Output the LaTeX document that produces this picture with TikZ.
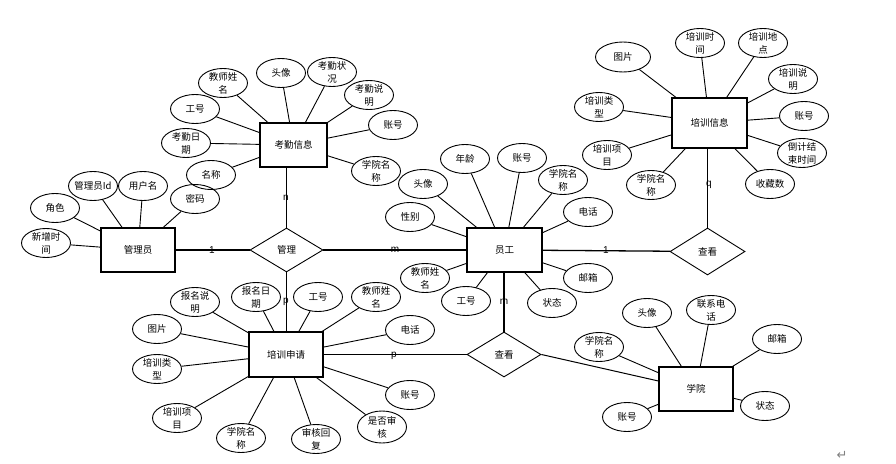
\documentclass[tikz,border=0pt]{standalone}
\usepackage{fontspec}
\setmainfont{Noto Sans CJK SC}
\newfontfamily\latinfont{Liberation Sans}
\newfontfamily\symfont{DejaVu Sans}
\usetikzlibrary{shapes.geometric}
\tikzset{
  txt/.style={font=\fontsize{9.5}{13}\selectfont,align=center,inner sep=0pt},
  ent/.style={draw,rectangle,line width=1.1pt,inner sep=0pt,font=\fontsize{9.5}{13}\selectfont,minimum width=74pt,minimum height=44pt},
  rel/.style={draw,diamond,line width=0.9pt,inner sep=0pt,font=\fontsize{9.5}{13}\selectfont,minimum width=74pt,minimum height=45pt},
  attr/.style={draw,ellipse,line width=0.9pt,inner sep=0pt,minimum width=49pt,minimum height=29pt,label={[txt]center:#1}},
  aline/.style={line width=0.9pt},
  rline/.style={line width=1.3pt},
  card/.style={font=\latinfont\fontsize{10}{11}\selectfont,inner sep=0pt}
}
\begin{document}
\begin{tikzpicture}[x=1pt,y=-1pt]
\useasboundingbox (0,0) rectangle (896,463);
% entities
\node[ent] (gly) at (138,250) {管理员};
\node[ent,minimum width=67pt] (kq) at (293.5,145) {考勤信息};
\node[ent,minimum width=75pt] (yg) at (504.5,250) {员工};
\node[ent,minimum width=75pt,minimum height=50pt] (pxxx) at (709.5,123) {培训信息};
\node[ent,minimum height=45pt] (pxsq) at (286,354.5) {培训申请};
\node[ent] (xy) at (696,389) {学院};
% relations
\node[rel,minimum width=73pt,minimum height=44pt] (gl) at (286.5,250) {管理};
\node[rel,minimum width=75pt,minimum height=47pt] (ck1) at (707.5,251.5) {查看};
\node[rel] (ck2) at (504,354.5) {查看};
% relation lines
\draw[rline] (gly) -- (gl);
\draw[rline] (gl) -- (yg);
\draw[line width=1.1pt] (gl.north) -- (gl.north |- kq.south);
\draw[line width=1.1pt] (gl.south) -- (gl.south |- pxsq.north);
\draw[rline] (yg) -- (ck1);
\draw[line width=1.1pt] (ck1.north) -- (ck1.north |- pxxx.south);
\draw[line width=1.1pt] (yg.south -| ck2.north) -- (ck2.north);
\draw[rline] (pxsq.east |- ck2.west) -- (ck2.west);
\draw[line width=1pt] (ck2.east) -- ([yshift=8pt]xy.west);
% cardinalities
\node[card] (l1) at (212,250) {1};
\node[card] (l2) at (395,250) {m};
\node[card] (l3) at (286,198) {n};
\node[card] (l4) at (286,302) {p};
\node[card] (l5) at (606,250) {1};
\node[card] (l6) at (709,185) {q};
\node[card] (l7) at (504,302) {m};
\node[card] (l8) at (394,356) {p};
% 管理员 attributes
\node[attr={角色}] (a1) at (55,208) {};
\node[attr={新增时\\间}] (a2) at (46,243) {};
\node[attr={管理员Id}] (a3) at (93,186) {};
\node[attr={用户名}] (a4) at (143,186) {};
\node[attr={密码}] (a5) at (195,199) {};
\foreach \n in {a1,a2,a3,a4,a5} \draw[aline] (\n) -- (gly);
% 考勤信息 attributes
\node[attr={名称}] (b1) at (211,175) {};
\node[attr={考勤日\\期}] (b2) at (186,143) {};
\node[attr={工号}] (b3) at (195,109) {};
\node[attr={教师姓\\名}] (b4) at (223,83) {};
\node[attr={头像}] (b5) at (281,73) {};
\node[attr={考勤状\\况}] (b6) at (332,72) {};
\node[attr={考勤说\\明}] (b7) at (369,95) {};
\node[attr={账号}] (b8) at (393,125) {};
\node[attr={学院名\\称}] (b9) at (376,171) {};
\foreach \n in {b1,b2,b3,b4,b5,b6,b7,b8,b9} \draw[aline] (\n) -- (kq);
% 员工 attributes
\node[attr={年龄}] (c1) at (465,159) {};
\node[attr={账号}] (c2) at (522,158) {};
\node[attr={学院名\\称}] (c3) at (563,180) {};
\node[attr={头像}] (c4) at (423,184) {};
\node[attr={电话}] (c5) at (588,212) {};
\node[attr={性别}] (c6) at (410,217) {};
\node[attr={教师姓\\名}] (c7) at (425,278) {};
\node[attr={工号}] (c8) at (466,301) {};
\node[attr={状态}] (c9) at (552,303) {};
\node[attr={邮箱}] (c10) at (588,278) {};
\foreach \n in {c1,c2,c3,c4,c5,c6,c7,c8,c9,c10} \draw[aline] (\n) -- (yg);
% 培训信息 attributes
\node[attr={图片},minimum width=55pt,minimum height=30pt] (d1) at (623,57) {};
\node[attr={培训时\\间}] (d2) at (700,43) {};
\node[attr={培训地\\点}] (d3) at (763,43) {};
\node[attr={培训说\\明}] (d4) at (793,79) {};
\node[attr={账号}] (d5) at (804,116) {};
\node[attr={倒计结\\束时间}] (d6) at (802,153) {};
\node[attr={收藏数}] (d7) at (770,184) {};
\node[attr={学院名\\称}] (d8) at (651,185) {};
\node[attr={培训项\\目}] (d9) at (607,155) {};
\node[attr={培训类\\型}] (d10) at (599,107) {};
\foreach \n in {d1,d2,d3,d4,d5,d6,d7,d8,d9,d10} \draw[aline] (\n) -- (pxxx);
% 培训申请 attributes
\node[attr={报名说\\明}] (e1) at (195,302) {};
\node[attr={报名日\\期}] (e2) at (256,297) {};
\node[attr={工号}] (e3) at (318,297) {};
\node[attr={教师姓\\名}] (e4) at (376,297) {};
\node[attr={电话}] (e5) at (410,330) {};
\node[attr={账号}] (e6) at (410,395) {};
\node[attr={是否审\\核},minimum height=32pt] (e7) at (382,427) {};
\node[attr={审核回\\复}] (e8) at (316,439) {};
\node[attr={学院名\\称}] (e9) at (241,438) {};
\node[attr={培训项\\目}] (e10) at (177,418) {};
\node[attr={培训类\\型}] (e11) at (157,369) {};
\node[attr={图片}] (e12) at (157,329) {};
\foreach \n in {e1,e2,e3,e4,e5,e6,e7,e8,e9,e10,e11,e12} \draw[aline] (\n) -- (pxsq);
% 学院 attributes
\node[attr={头像}] (f1) at (647,313) {};
\node[attr={联系电\\话}] (f2) at (711,310) {};
\node[attr={邮箱}] (f3) at (777,339) {};
\node[attr={学院名\\称}] (f4) at (599,347) {};
\node[attr={账号}] (f5) at (627,417) {};
\node[attr={状态}] (f6) at (765,406) {};
\foreach \n in {f1,f2,f3,f4,f5,f6} \draw[aline] (\n) -- (xy);
% paragraph mark
\node[font=\symfont\fontsize{13}{13}\selectfont,text=gray,inner sep=0pt] (pm) at (842,455) {↵};
\end{tikzpicture}
\end{document}
